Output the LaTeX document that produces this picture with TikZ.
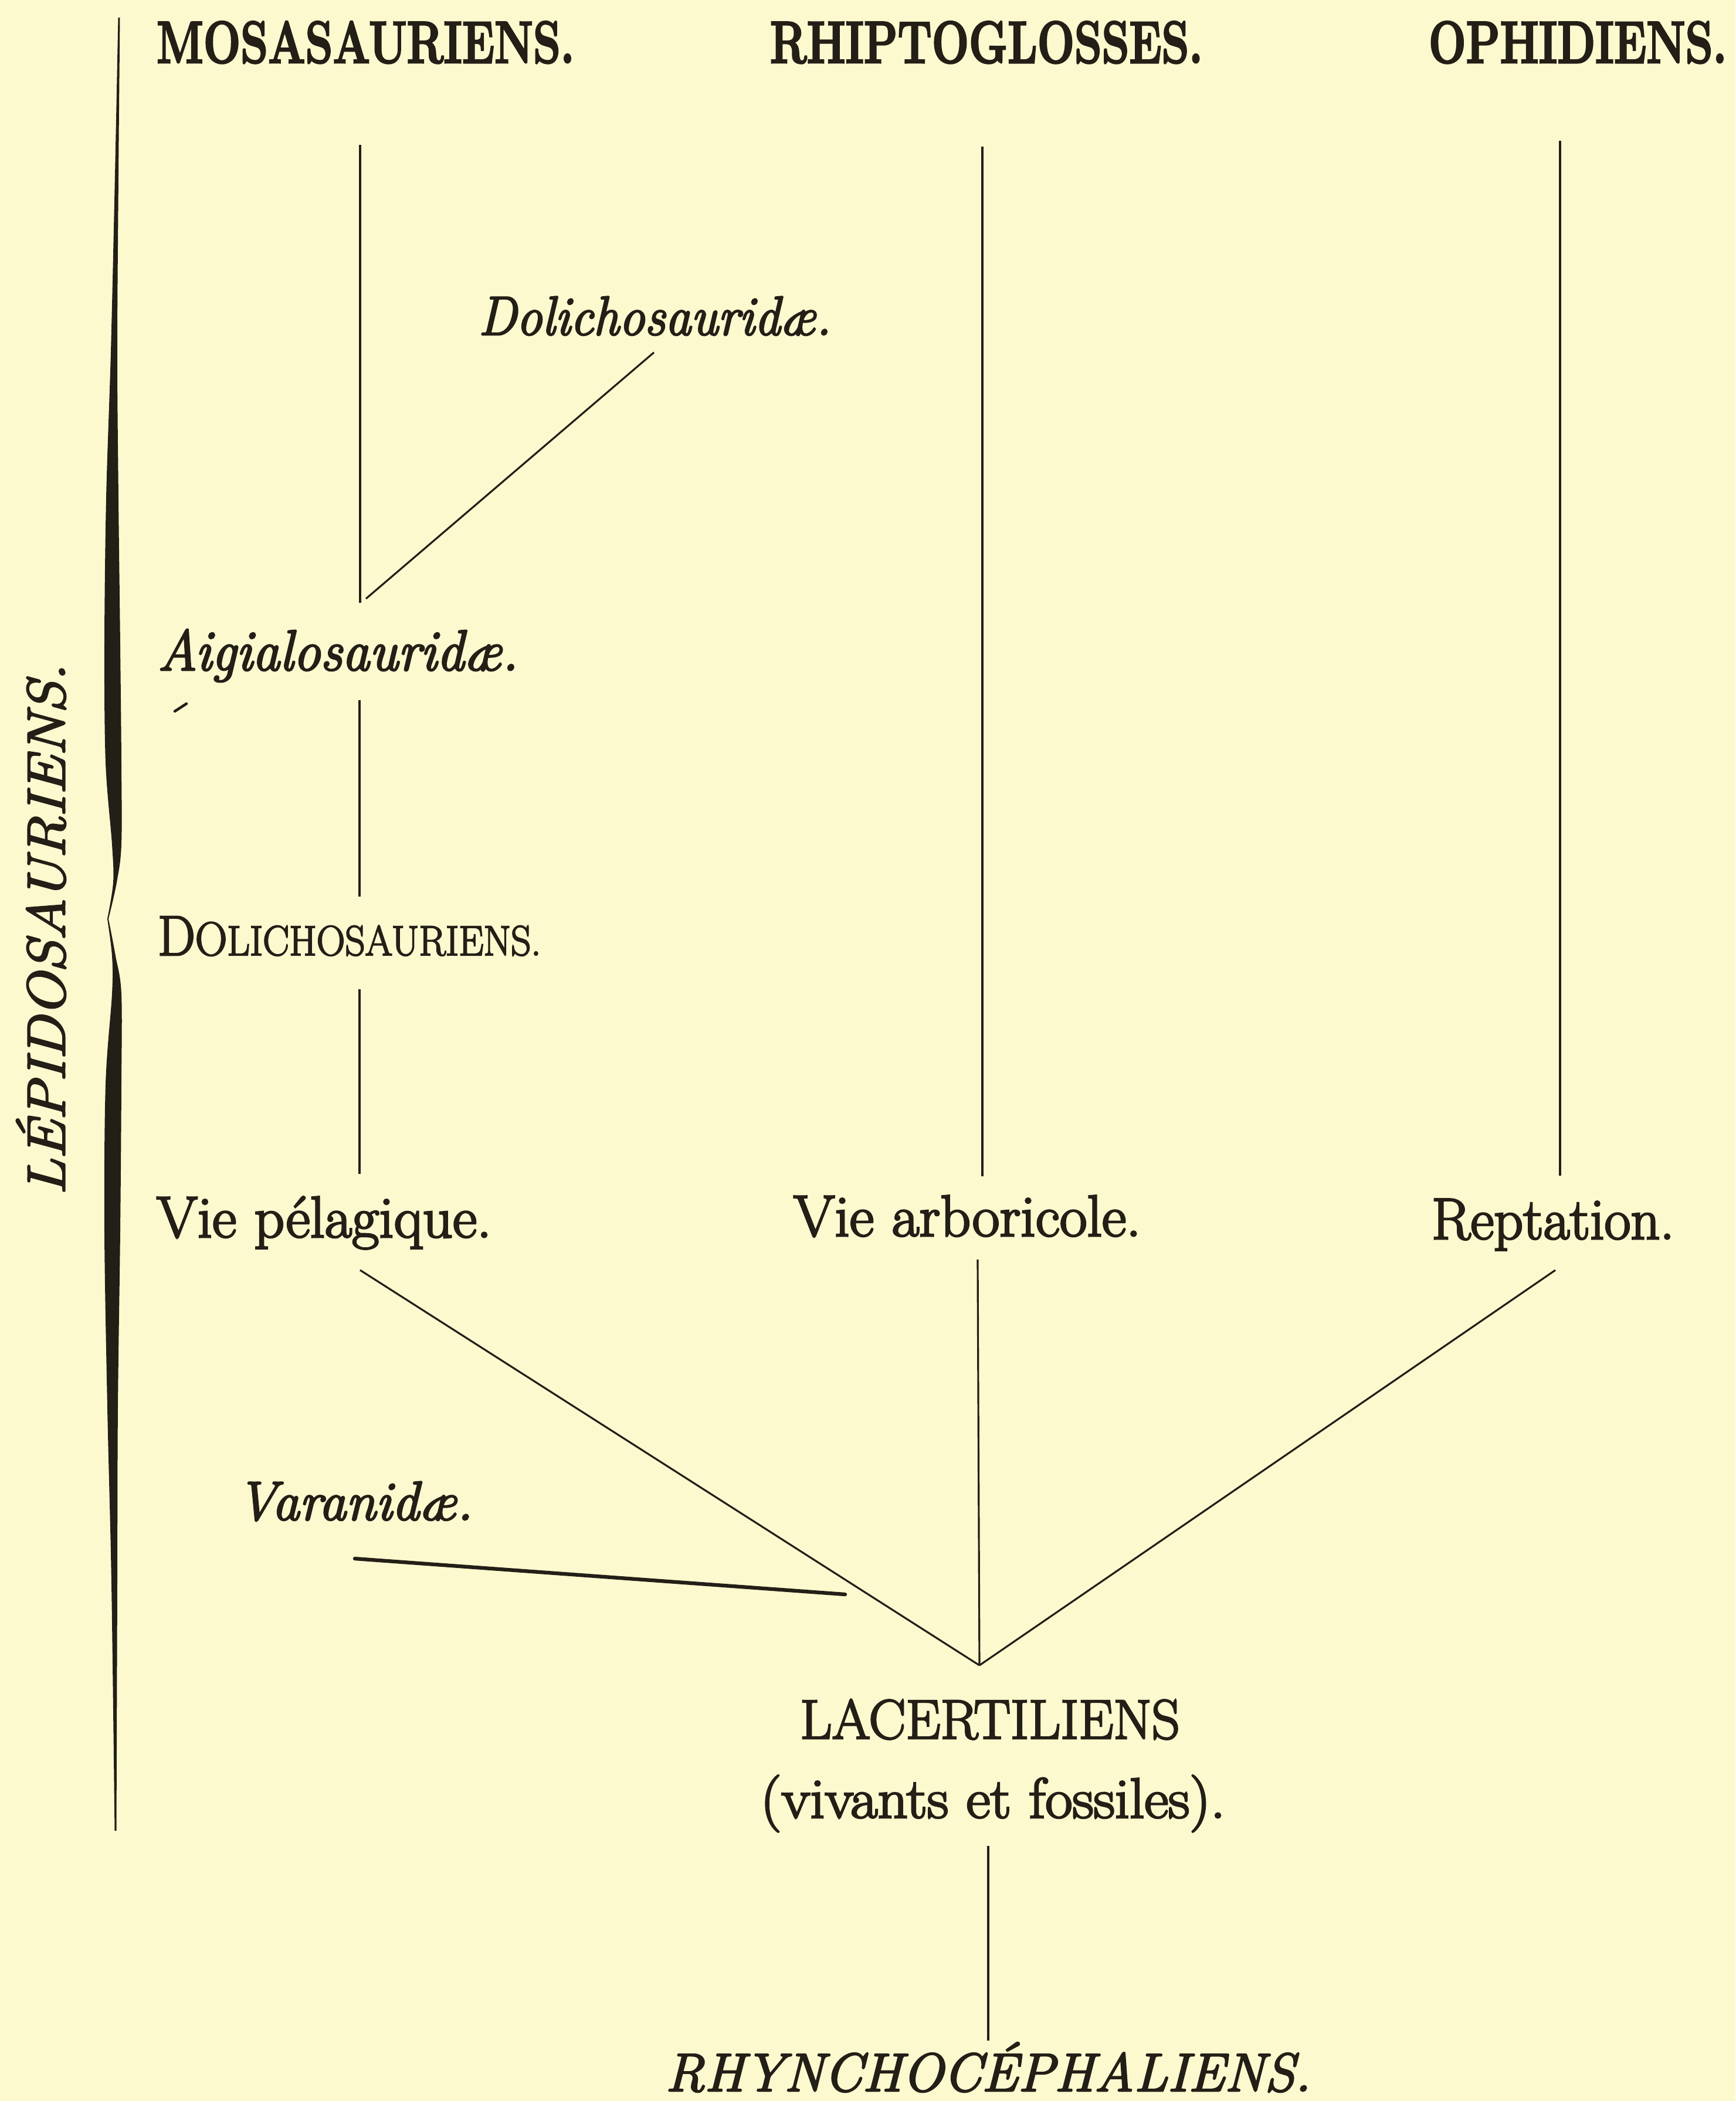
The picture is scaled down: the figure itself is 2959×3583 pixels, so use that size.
\documentclass[tikz,border=0pt]{standalone}
\usepackage{fontspec}
\setmainfont{Latin Modern Roman}[FakeBold=3]
\definecolor{paper}{RGB}{252,249,207}
\definecolor{ink}{RGB}{35,30,22}
\newcommand\fsz[1]{\fontsize{#1}{#1}\selectfont}
\newcommand\sx[2]{\scalebox{#1}[1]{#2}}
\begin{document}
\begin{tikzpicture}[x=0.01cm,y=-0.01cm,
  lbl/.style={inner sep=0pt, outer sep=0pt, text=ink},
  head/.style={lbl, font=\bfseries\fsz{28.74pt}, anchor=base west},
  body/.style={lbl, font=\fsz{28.45pt}, anchor=base west},
  ital/.style={lbl, anchor=base west},
  conn/.style={draw=ink, line width=0.9pt},
  heavy/.style={draw=ink, line width=1.8pt, line cap=round}]
\fill[paper] (0,0) rectangle (2959,3583);
\useasboundingbox (0,0) rectangle (2959,3583);

% brace
\fill[ink] plot[smooth, tension=0.55] coordinates {(201.5,30) (196,300) (189,600) (181,850) (178,1100) (180,1300) (191,1440) (193,1505) (183,1567)}
  -- plot[smooth, tension=0.55] coordinates {(185,1567) (199,1505) (207,1440) (207,1300) (205,1100) (202,850) (200,600) (202,300) (204.5,30)} -- cycle;
\fill[ink] plot[smooth, tension=0.55] coordinates {(183,1567) (191,1630) (191,1695) (180,1850) (178,2100) (183,2400) (190,2700) (195.5,3122)}
  -- plot[smooth, tension=0.55] coordinates {(198.5,3122) (200,2700) (201,2400) (205,2100) (207,1850) (207,1695) (197,1630) (185,1567)} -- cycle;

% labels
\node[lbl, font=\itshape\fsz{26pt}, rotate=90] (lep) at (70,1585) {\sx{1.09}{LÉPIDOSAURIENS.}};
\node[head] (mos) at (267,107) {\sx{0.741}{MOSASAURIENS.}};
\node[head] (rhi) at (1313,107) {\sx{0.74}{RHIPTOGLOSSES.}};
\node[head] (oph) at (2436,107) {\sx{0.745}{OPHIDIENS.}};
\node[ital, font=\itshape\fsz{26.75pt}] (dlr) at (816,571) {\sx{0.93}{Dolichosauridæ.}};
\node[ital, font=\itshape\fsz{27.88pt}] (aig) at (269,1143) {\sx{0.946}{Aigialosauridæ.}};
\node[lbl, anchor=base west] (dls) at (269,1629) {\sx{0.934}{{\fsz{27.5pt}D}{\fsz{23pt}O}{\fsz{20.5pt}LICHOSAURIENS.}}};
\node[body] (vpl) at (267,2110) {\sx{1.008}{Vie pélagique.}};
\node[body] (vab) at (1353,2108) {\sx{1.015}{Vie arboricole.}};
\node[body] (rep) at (2441,2113) {\sx{0.977}{Reptation.}};
\node[ital, font=\itshape\fsz{26.75pt}] (vrn) at (404,2592) {\sx{0.98}{Varanidæ.}};
\node[lbl, font=\fsz{27.03pt}, anchor=base] (lac) at (1688,2965) {\sx{0.991}{LACERTILIENS}};
\node[lbl, font=\fsz{27.6pt}, anchor=base] (viv) at (1693,3100) {\sx{1.038}{(vivants et fossiles).}};
\node[lbl, font=\itshape\fsz{26.18pt}, anchor=base] (rhy) at (1685,3566) {\sx{1.015}{RHYNCHOCÉPHALIENS.}};

% connector end points
\coordinate (m1a) at (614,247);  \coordinate (m1b) at (614,1028);
\coordinate (dd1) at (624,1021); \coordinate (dd2) at (1115,601);
\coordinate (m2a) at (613,1194); \coordinate (m2b) at (613,1529);
\coordinate (m3a) at (613,1687); \coordinate (m3b) at (613,2002);
\coordinate (r1a) at (1675,250); \coordinate (r1b) at (1675,2006);
\coordinate (o1a) at (2660,240); \coordinate (o1b) at (2660,2005);
\coordinate (jn)  at (1670,2840);
\coordinate (vp)  at (614,2166);
\coordinate (va)  at (1667,2148);
\coordinate (rp)  at (2652,2166);
\coordinate (v1)  at (605,2658); \coordinate (v2) at (1441,2719);
\coordinate (l1)  at (1685,3148); \coordinate (l2) at (1685,3480);
\coordinate (tk1) at (298,1213); \coordinate (tk2) at (318,1200);

\draw[conn] (m1a) -- (m1b);
\draw[conn] (dd1) -- (dd2);
\draw[conn] (m2a) -- (m2b);
\draw[conn] (m3a) -- (m3b);
\draw[conn] (r1a) -- (r1b);
\draw[conn] (o1a) -- (o1b);
\draw[conn] (vp) -- (jn);
\draw[conn] (va) -- (jn);
\draw[conn] (rp) -- (jn);
\draw[heavy] (v1) -- (v2);
\draw[conn] (l1) -- (l2);
\draw[ink, line width=1.3pt, line cap=round] (tk1) -- (tk2);
\end{tikzpicture}
\end{document}
